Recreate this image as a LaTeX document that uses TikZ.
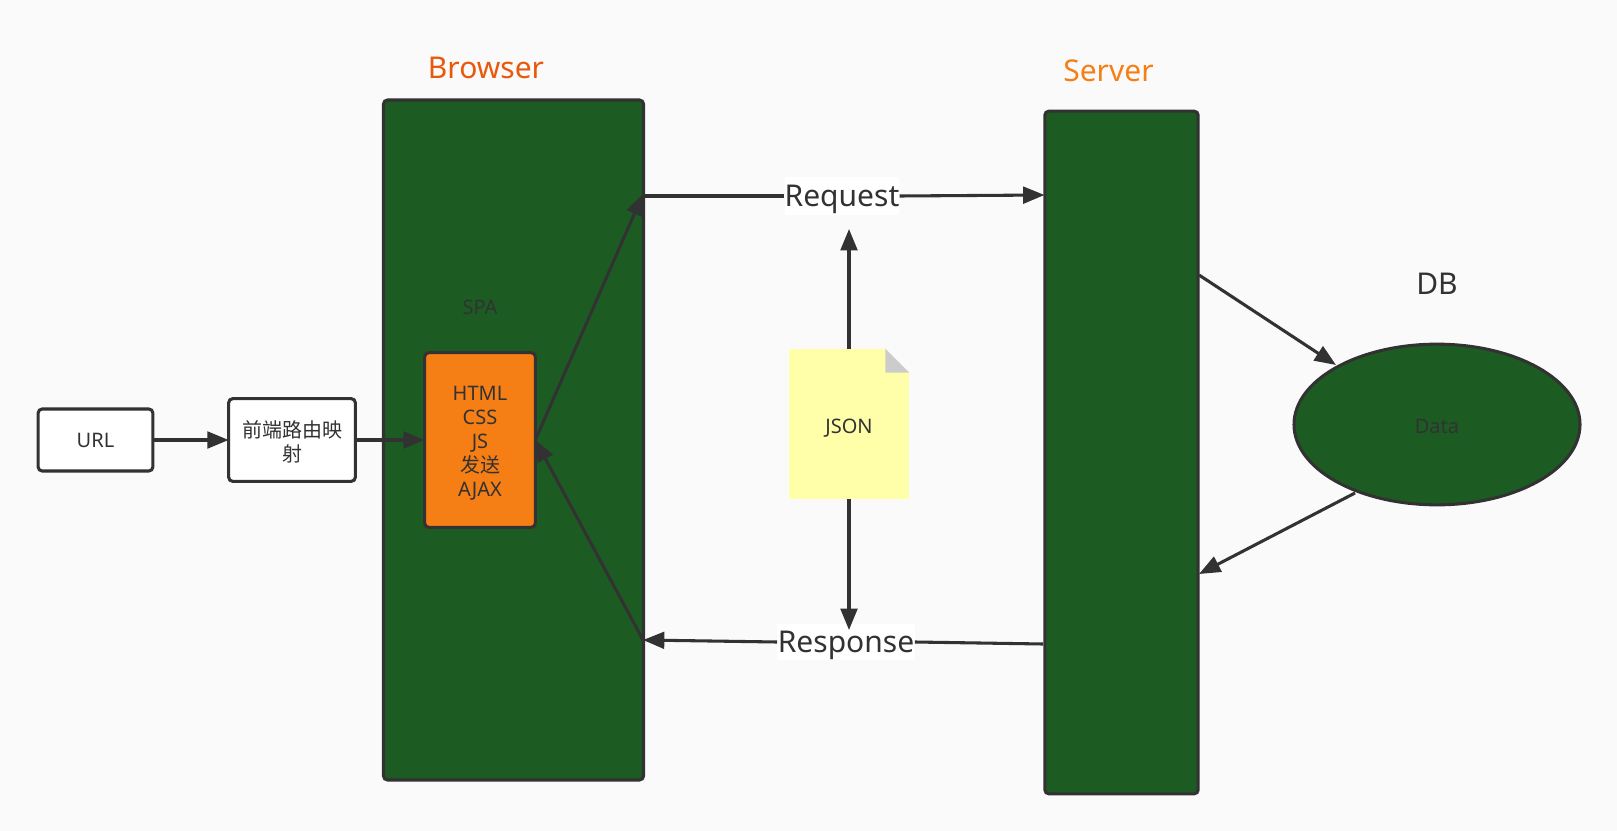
\documentclass[tikz,border=0pt]{standalone}
\usepackage{fontspec}
\usepackage{tikz}
\usetikzlibrary{arrows.meta,shapes.geometric}
\setmainfont{Noto Sans}
\newfontfamily\cjk{Noto Sans CJK SC}
\definecolor{pagebg}{HTML}{FAFAFA}
\definecolor{boxgreen}{HTML}{1C5C22}
\definecolor{boxorange}{HTML}{F67F15}
\definecolor{inkdark}{HTML}{323232}
\definecolor{notefill}{HTML}{FFFFAA}
\definecolor{notefold}{HTML}{CCCCCC}
\definecolor{titlered}{HTML}{E9590C}
\tikzset{
    box/.style={draw=inkdark, line width=2.3pt, rounded corners=3pt, inner sep=0pt, outer sep=0pt},
    bigtext/.style={text=inkdark, inner sep=0pt, font=\fontsize{22.5}{27}\selectfont},
    smalltext/.style={text=inkdark, inner sep=0pt, align=center, font=\fontsize{15}{18}\selectfont},
    link/.style={draw=inkdark, line width=2.3pt, -{Triangle[length=16pt,width=12.5pt]}},
    plainlink/.style={draw=inkdark, line width=2.3pt},
}
\begin{document}
\begin{tikzpicture}[x=0.75pt, y=-0.75pt]
    \useasboundingbox[fill=pagebg] (0,0) rectangle (1617,831);
    % boxes
    \node[box, fill=boxgreen, minimum width=195pt, minimum height=510pt] (browser) at (513.5,440) {};
    \node[box, fill=boxgreen, minimum width=115pt, minimum height=512pt] (server) at (1121.5,452.5) {};
    \node[box, fill=white, minimum width=86pt, minimum height=46.5pt,
        label={[smalltext, yshift=-0.7pt]center:URL}] (url) at (95.5,440) {};
    \node[box, fill=white, minimum width=95pt, minimum height=62pt,
        label={[smalltext, yshift=-1.5pt]center:{\cjk 前端路由映\\\cjk 射}}] (router) at (292,440) {};
    \node[box, fill=boxorange, minimum width=83pt, minimum height=131pt,
        label={[smalltext, yshift=-2.2pt]center:{HTML\\CSS\\JS\\{\cjk 发送}\\AJAX}}] (page) at (480,440) {};
    \node[draw=inkdark, line width=2.3pt, fill=boxgreen, ellipse, minimum width=214.5pt, minimum height=120.5pt, inner sep=0pt,
        label={[smalltext, yshift=-1.5pt]center:Data}] (data) at (1437,424.5) {};
    % note
    \node[fill=notefill, minimum width=90pt, minimum height=112.5pt, inner sep=0pt,
        label={[smalltext, yshift=-3pt]center:JSON}] (json) at (849,424) {};
    \fill[pagebg] (json.north east) -- ++(-24,0) -- ++(24,24) -- cycle;
    \fill[notefold] (json.north east) ++(-24,0) -- ++(24,24) -- ++(-24,0) -- cycle;
    % titles
    \node[bigtext, text=titlered] (browsertitle) at (486,68) {Browser};
    \node[bigtext, text=boxorange] (servertitle) at (1108.5,71) {Server};
    \node[bigtext] (dbtitle) at (1437,284) {DB};
    \node[smalltext] (spa) at (480,307) {SPA};
    % labels on the links
    \node[fill=white, inner sep=0pt, minimum width=86pt, minimum height=28pt,
        label={[bigtext, yshift=-2.2pt]center:Request}] (request) at (842,196) {};
    \node[fill=white, inner sep=0pt, minimum width=103pt, minimum height=27pt,
        label={[bigtext, yshift=-2.2pt]center:Response}] (response) at (846,642) {};
    % ends on the box sides
    \coordinate (browserout) at (643,194);
    \coordinate (browserside) at (644,196);
    \coordinate (browserin) at (643,640);
    \coordinate (serverin) at (1044.5,195);
    \coordinate (serverout) at (1043,644);
    \coordinate (serverdown) at (1199,275);
    \coordinate (serverup) at (1199,574);
    \coordinate (datain) at (1336,365);
    \coordinate (dataout) at (1355,493);
    \coordinate (requestgap) at (849,229);
    \coordinate (responsegap) at (849,630);
    % links
    \draw[link] (url.east) -- (router.west);
    \draw[link] (router.east) -- (page.west);
    \draw[link] (page.east) -- (browserout);
    \draw[plainlink] (browserside) -- (request.west);
    \draw[link] (request.east) -- (serverin);
    \draw[plainlink] (serverout) -- (response.east);
    \draw[link] (response.west) -- (browserin);
    \draw[link] (browserin) -- (page.east);
    \draw[link] (serverdown) -- (datain);
    \draw[link] (dataout) -- (serverup);
    \draw[link] (json.north) -- (requestgap);
    \draw[link] (json.south) -- (responsegap);
\end{tikzpicture}
\end{document}
